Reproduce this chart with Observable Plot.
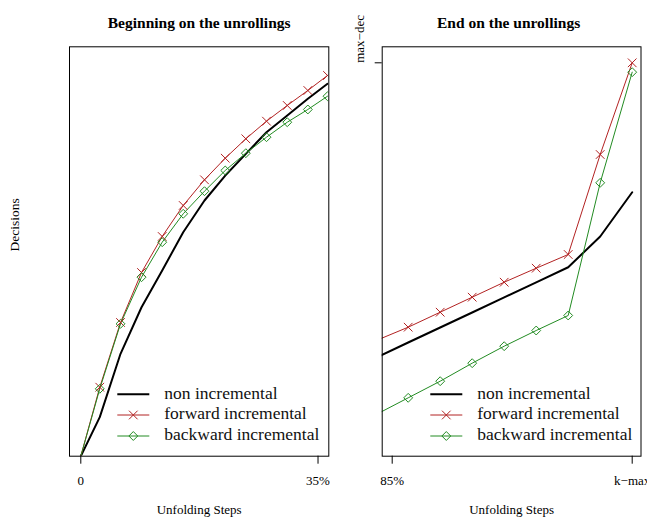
<!DOCTYPE html>
<html>
<head>
<meta charset="utf-8">
<script src="https://cdn.jsdelivr.net/npm/d3@7"></script>
<script src="https://cdn.jsdelivr.net/npm/@observablehq/plot@0.6"></script>
<style>
  html, body { margin: 0; padding: 0; background: #fff; overflow: hidden; }
  #chart { position: relative; width: 647px; height: 521px; overflow: hidden; font-family: "Liberation Serif", "Times New Roman", serif; }
  #chart > * { position: absolute; }
  .legend text { font-family: "Liberation Serif", "Times New Roman", serif; font-size: 17.5px; fill: #111; }
</style>
</head>
<body>
<div id="chart"></div>
<script>
// ---- Data ----
const seriesNames = ["non incremental", "forward incremental", "backward incremental"];
const seriesColors = ["#000000", "#B22222", "#228B22"];

// Left panel: beginning of the unrollings (x in % of steps)
const leftX   = [0, 2.80, 5.86, 8.96, 12.01, 15.11, 18.25, 21.31, 24.35, 27.40, 30.46, 33.50, 36.40];
const leftNon = [0, 9.53, 25.01, 36.39, 45.36, 54.71, 62.46, 68.56, 73.86, 79.14, 83.22, 87.30, 90.96];
const leftFwd = [0, 16.85, 32.66, 44.87, 53.67, 61.24, 67.51, 72.79, 77.53, 81.83, 85.67, 89.33, 93.00];
const leftBwd = [0, 16.46, 32.34, 43.72, 52.27, 59.21, 64.73, 69.79, 74.01, 77.92, 81.58, 84.69, 87.93];
const leftTicks = [0, 35];
const leftTickLabels = ["0", "35%"];

// Right panel: end of the unrollings (x in step index from 85% to k-max)
const rightX   = [-0.5, 0.5, 1.5, 2.5, 3.5, 4.5, 5.5, 6.5, 7.5];
const rightNon = [24.08, 27.77, 31.44, 35.10, 38.81, 42.48, 46.16, 53.66, 64.48];
const rightFwd = [28.26, 31.51, 35.17, 38.84, 42.50, 45.92, 49.27, 73.69, 96.09];
const rightBwd = [10.19, 14.26, 18.32, 22.72, 26.87, 30.70, 34.37, 66.78, 93.80];
const rightTicks = [0, 7.5];
const rightTickLabels = ["85%", "k\u2212max"];
const rightYTicks = [96.09];
const rightYTickLabels = ["max\u2212dec"];

const titles = ["Beginning on the unrollings", "End on the unrollings"];
const xLabel = "Unfolding Steps";
const yLabel = "Decisions";

const FONT = '"Liberation Serif", "Times New Roman", serif';

function rows(xs, ys) { return xs.map((x, i) => ({x, y: ys[i]})); }

function panel({width, marginLeft, marginRight, xDomain, xs, non, fwd, bwd, ticks, tickLabels, title, titleDx, yTicks, yTickLabels, showYLabel, skipFirstMarker}) {
  const dNon = rows(xs, non), dFwd = rows(xs, fwd), dBwd = rows(xs, bwd);
  const mFwd = skipFirstMarker ? dFwd.slice(1) : dFwd;
  const mBwd = skipFirstMarker ? dBwd.slice(1) : dBwd;
  const marks = [
    Plot.line(dNon, {x: "x", y: "y", stroke: seriesColors[0], strokeWidth: 2, clip: true}),
    Plot.line(dFwd, {x: "x", y: "y", stroke: seriesColors[1], strokeWidth: 1, clip: true}),
    Plot.line(dBwd, {x: "x", y: "y", stroke: seriesColors[2], strokeWidth: 1, clip: true}),
    Plot.dot(mFwd, {x: "x", y: "y", symbol: "times", r: 4, stroke: seriesColors[1], strokeWidth: 1, clip: true}),
    Plot.dot(mBwd, {x: "x", y: "y", symbol: "diamond2", r: 4, stroke: seriesColors[2], strokeWidth: 1, fill: "none", clip: true}),
    Plot.frame({stroke: "#000", strokeWidth: 1}),
    Plot.axisX({ticks, tickFormat: d => tickLabels[ticks.indexOf(d)], tickSize: 8, tickPadding: 12, fontSize: 13, label: null}),
    Plot.text([title], {frameAnchor: "top", dy: -30, dx: titleDx || 0, fontWeight: "bold", fontSize: 15.5, fontFamily: FONT}),
    Plot.text([xLabel], {frameAnchor: "bottom", dy: 57.5, fontSize: 13, fontFamily: FONT})
  ];
  if (showYLabel) {
    marks.push(Plot.text([yLabel], {frameAnchor: "left", dx: -54.5, rotate: -90, fontSize: 13.5, fontFamily: FONT}));
  }
  if (yTicks) {
    marks.push(Plot.axisY({ticks: yTicks, tickFormat: () => "", tickSize: 7, label: null}));
    marks.push(Plot.text(yTicks, {y: d => d, text: (d, i) => yTickLabels[i], frameAnchor: "left", dx: -22.2, rotate: -90, fontSize: 13, fontFamily: FONT}));
  }
  return Plot.plot({
    width, height: 521,
    marginLeft, marginRight, marginTop: 46.3, marginBottom: 65.3,
    style: {fontFamily: FONT, fontSize: "13px", background: "transparent", color: "#000"},
    x: {domain: xDomain},
    y: {domain: [0, 100], axis: null},
    marks
  });
}

function legend(left, top) {
  const svg = d3.create("svg").attr("class", "legend").attr("width", 240).attr("height", 70)
    .style("left", left + "px").style("top", top + "px").style("overflow", "visible");
  const rowY = [14.3, 35, 56];
  const sym = [null, d3.symbolTimes, d3.symbolDiamond2];
  seriesNames.forEach((name, i) => {
    const g = svg.append("g").attr("transform", `translate(0,${rowY[i]})`);
    g.append("line").attr("x1", 7.3).attr("x2", 39.3).attr("y1", 0).attr("y2", 0)
      .attr("stroke", seriesColors[i]).attr("stroke-width", i === 0 ? 2 : 1);
    if (sym[i]) {
      g.append("path").attr("d", d3.symbol(sym[i], Math.PI * 16)())
        .attr("transform", "translate(23.3,0)")
        .attr("fill", "none").attr("stroke", seriesColors[i]).attr("stroke-width", 1);
    }
    g.append("text").attr("x", 54.3).attr("y", 4.2).text(name);
  });
  return svg.node();
}

const chart = document.getElementById("chart");

const left = panel({
  width: 350, marginLeft: 69, marginRight: 21.7,
  xDomain: [-1.667, 36.59],
  xs: leftX, non: leftNon, fwd: leftFwd, bwd: leftBwd,
  ticks: leftTicks, tickLabels: leftTickLabels, title: titles[0],
  showYLabel: true, skipFirstMarker: true
});
left.style.left = "0px"; left.style.top = "0px";
chart.appendChild(left);

const right = panel({
  width: 297, marginLeft: 31.7, marginRight: 6.5,
  xDomain: [-0.3125, 7.775],
  xs: rightX, non: rightNon, fwd: rightFwd, bwd: rightBwd,
  ticks: rightTicks, tickLabels: rightTickLabels, title: titles[1], titleDx: -3,
  yTicks: rightYTicks, yTickLabels: rightYTickLabels
});
right.style.left = "350px"; right.style.top = "0px";
chart.appendChild(right);

chart.appendChild(legend(110, 380));
chart.appendChild(legend(423.4, 380));
</script>
</body>
</html>
